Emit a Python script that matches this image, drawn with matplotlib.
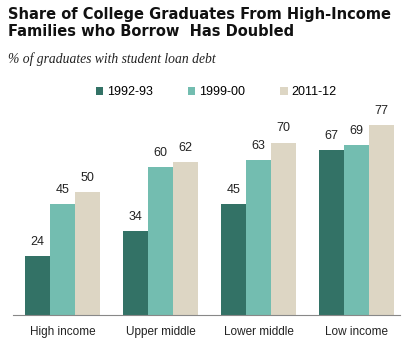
import matplotlib.pyplot as plt
import numpy as np

categories = ["High income", "Upper middle", "Lower middle", "Low income"]
years = ["1992-93", "1999-00", "2011-12"]
v_1992 = [24, 34, 45, 67]
v_1999 = [45, 60, 63, 69]
v_2011 = [50, 62, 70, 77]
colors = ["#337266", "#73bdb0", "#ddd6c4"]

plt.rcParams["font.family"] = ["Liberation Sans", "DejaVu Sans"]

fig = plt.figure(figsize=(4.07, 3.51), dpi=100)
ax = fig.add_axes([13/407, 36/351, 387/407, 197/351])

x = np.arange(len(categories))
w = 0.255
for i, (vals, lab) in enumerate(zip([v_1992, v_1999, v_2011], years)):
    pos = x + (i - 1) * w
    ax.bar(pos, vals, width=w, color=colors[i], label=lab)
    for p, v in zip(pos, vals):
        ax.annotate(str(v), (p, v), xytext=(0, 6), textcoords="offset points",
                    ha="center", va="bottom", fontsize=9, color="#222222")

ax.set_xlim(-0.505, 3.444)
ax.set_ylim(0, 80)
ax.set_yticks([])
ax.set_xticks(x)
ax.set_xticklabels(categories, fontsize=8.5, color="#222222")
ax.tick_params(axis="x", length=0, pad=8)
for s in ["top", "left", "right"]:
    ax.spines[s].set_visible(False)
ax.spines["bottom"].set_color("#888888")

leg = fig.legend(loc="center", bbox_to_anchor=(216/407, 1 - 92/351), ncol=3,
                 frameon=False, fontsize=9, handlelength=0.6, handleheight=0.6,
                 columnspacing=2.8, handletextpad=0.3)

fig.text(8/407, 1 - 7/351, "Share of College Graduates From High-Income\nFamilies who Borrow  Has Doubled",
         fontsize=10.5, fontweight="bold", family="DejaVu Sans", va="top", ha="left",
         linespacing=1.15, color="#111111")
fig.text(8/407, 1 - 59/351, "% of graduates with student loan debt", fontsize=9.8,
         family="Liberation Serif", style="italic", va="center", ha="left", color="#222222")

fig.savefig("out.png", dpi=100)
